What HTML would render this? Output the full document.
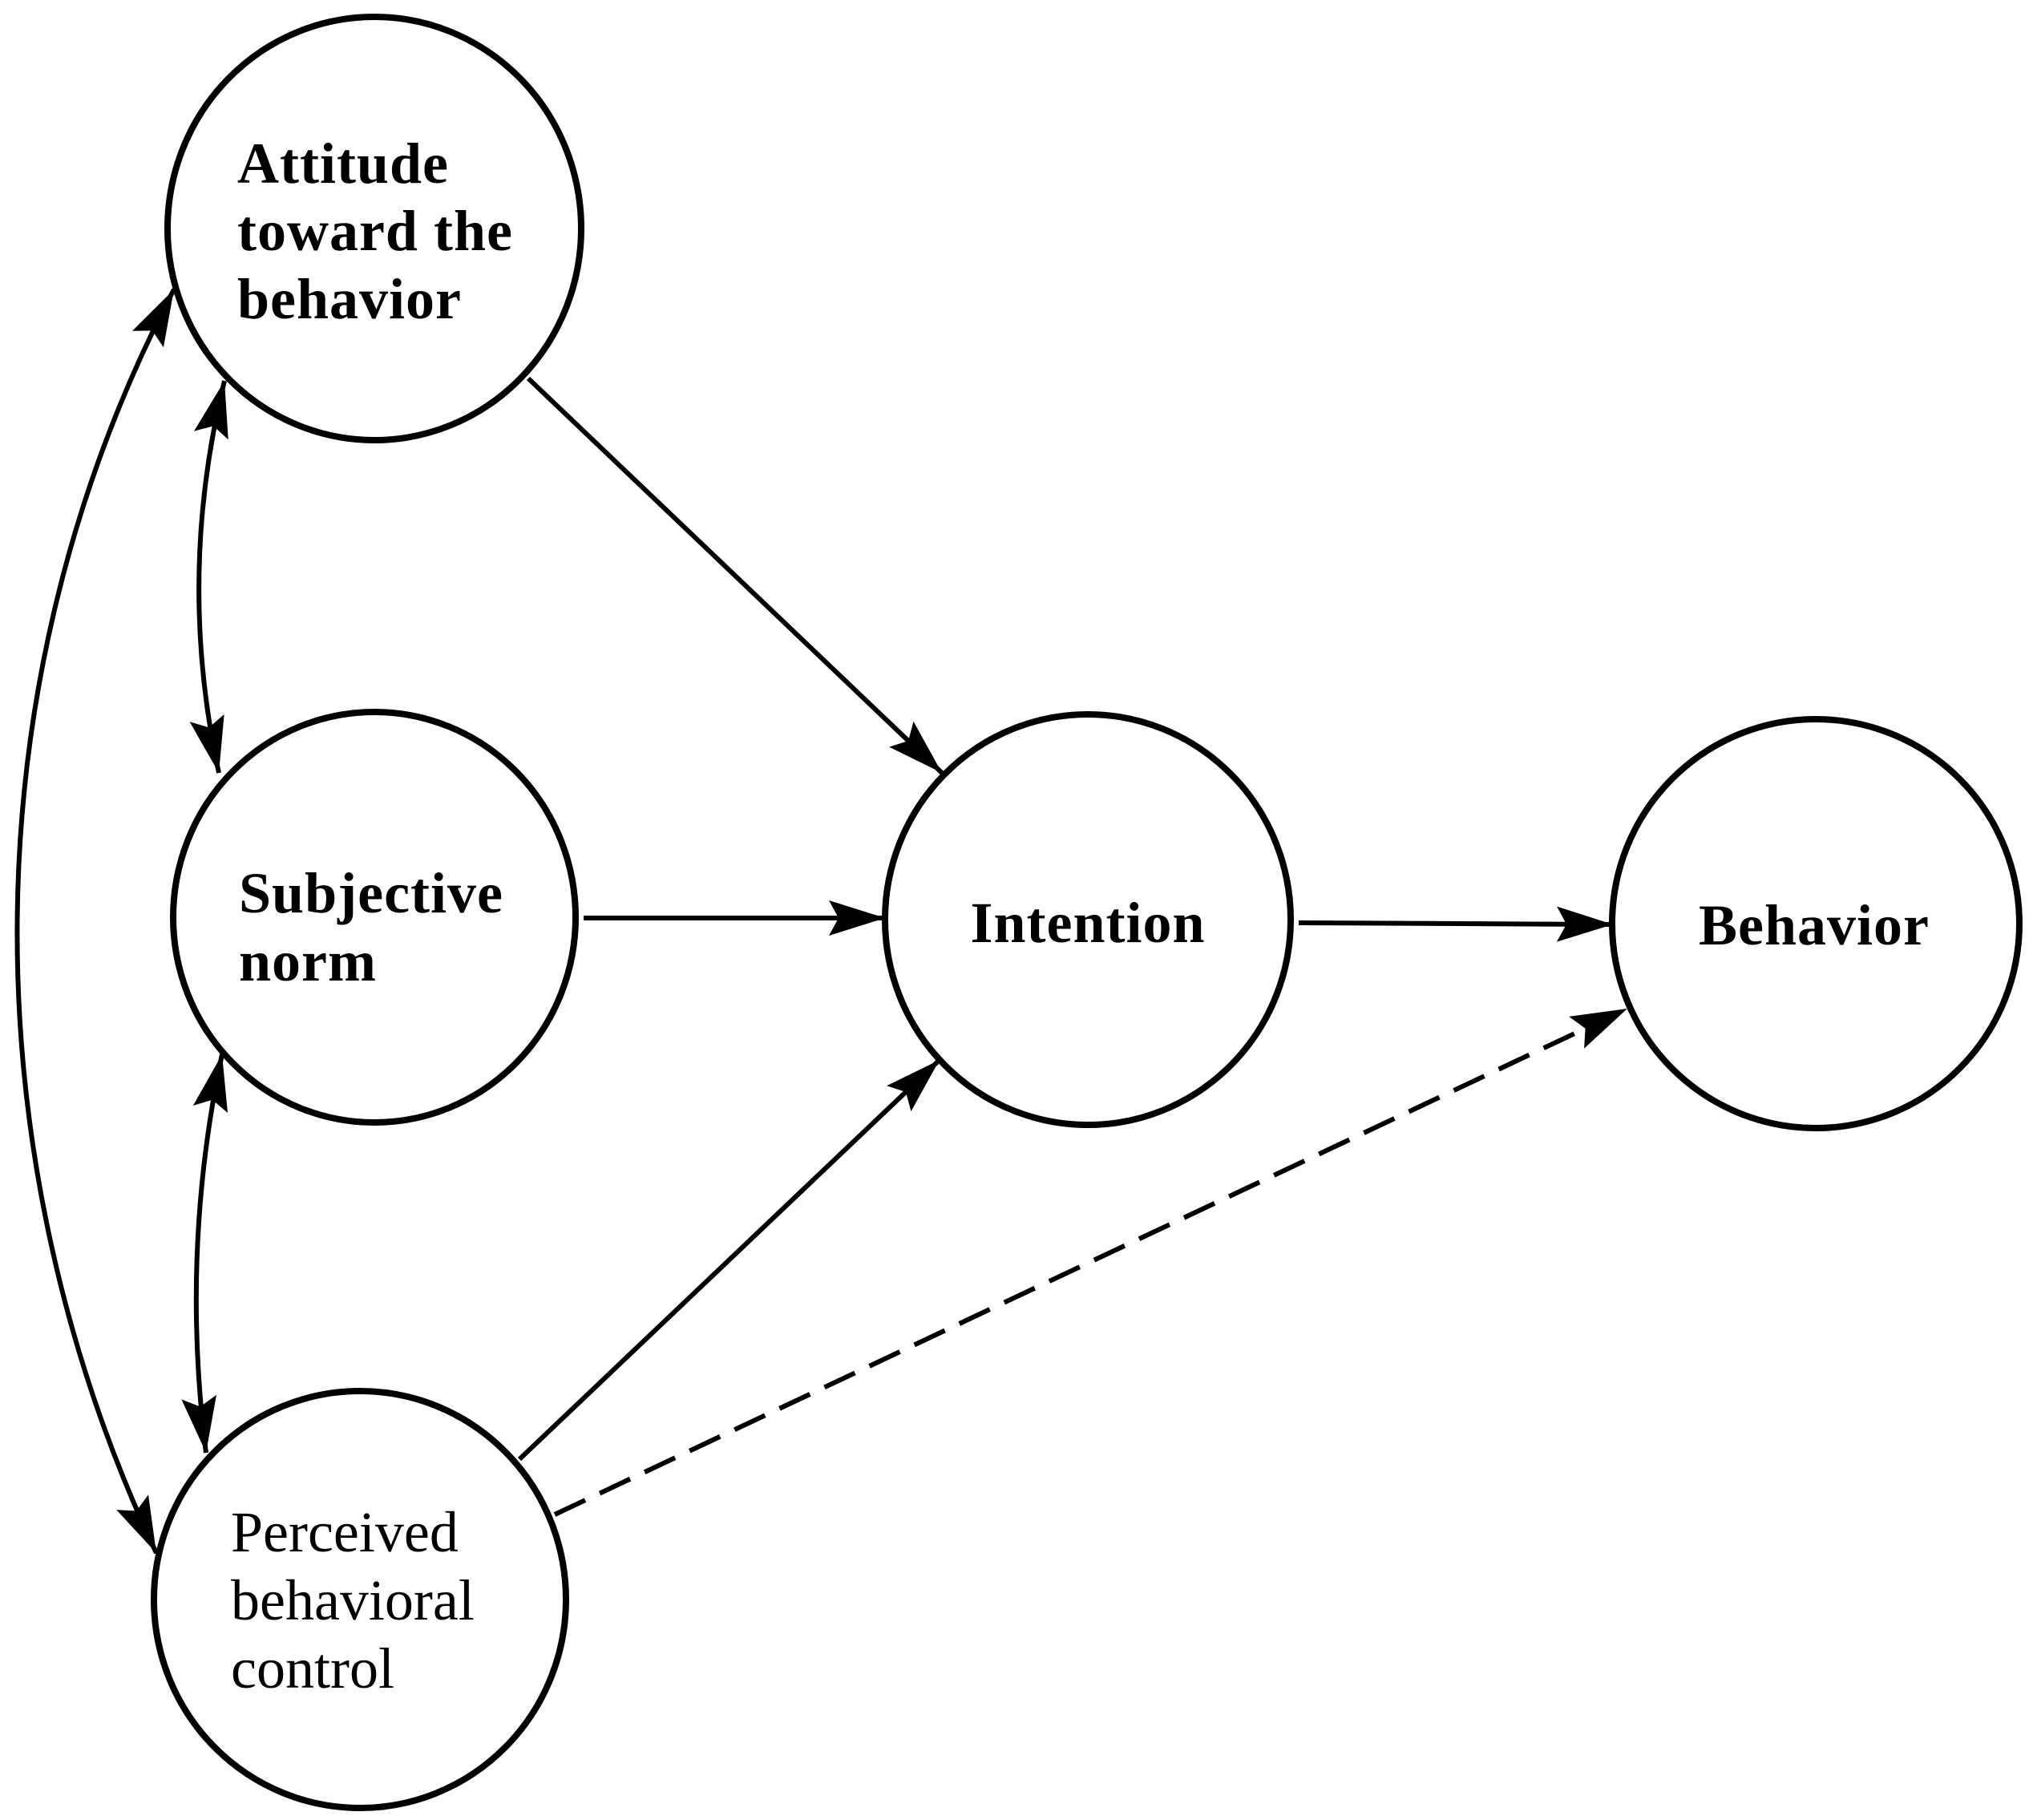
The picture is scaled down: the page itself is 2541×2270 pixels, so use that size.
<!DOCTYPE html>
<html><head><meta charset="utf-8"><style>html,body{margin:0;padding:0;background:#fff}</style></head>
<body>
<svg width="2541" height="2265" viewBox="0 0 2541 2265" xmlns="http://www.w3.org/2000/svg">
<defs>
<marker id="a" markerUnits="userSpaceOnUse" markerWidth="80" markerHeight="50" refX="70" refY="22" orient="auto-start-reverse">
<path d="M0,0 L70,22 L0,44 L12,22 Z" fill="#000"/>
</marker>
</defs>
<g fill="none" stroke="#000" stroke-width="8">
<ellipse cx="467" cy="285" rx="258" ry="264"/>
<ellipse cx="467" cy="1144" rx="251" ry="256"/>
<ellipse cx="449" cy="1995" rx="257" ry="260"/>
<ellipse cx="1357" cy="1147" rx="253" ry="256"/>
<ellipse cx="2265" cy="1152" rx="254" ry="255"/>
</g>
<g fill="none" stroke="#000" stroke-width="6">
<line x1="659" y1="472" x2="1175" y2="964" marker-end="url(#a)"/>
<line x1="728" y1="1145" x2="1104" y2="1145" marker-end="url(#a)"/>
<line x1="1620" y1="1151" x2="2012" y2="1153" marker-end="url(#a)"/>
<line x1="648" y1="1820" x2="1172" y2="1322" marker-end="url(#a)"/>
<line x1="692" y1="1889" x2="2030" y2="1258" stroke-dasharray="42 20" marker-end="url(#a)"/>
<path d="M280,475 Q220,720 273,964" marker-start="url(#a)" marker-end="url(#a)"/>
<path d="M277,1315 Q225,1560 257,1812" marker-start="url(#a)" marker-end="url(#a)"/>
<path d="M217,361 C-45,860 -35,1450 195,1937" marker-start="url(#a)" marker-end="url(#a)"/>
</g>
<g font-family="'Liberation Serif', serif" font-size="72" fill="#000">
<g font-weight="bold" letter-spacing="1">
<text x="296" y="228">Attitude</text>
<text x="296" y="312">toward the</text>
<text x="296" y="397">behavior</text>
<text x="298" y="1138">Subjective</text>
<text x="298" y="1223">norm</text>
<text x="1357" y="1175" text-anchor="middle">Intention</text>
<text x="2263" y="1178" text-anchor="middle">Behavior</text>
</g>
<text x="288" y="1935">Perceived</text>
<text x="288" y="2020">behavioral</text>
<text x="288" y="2105">control</text>
</g>
</svg>
</body></html>
